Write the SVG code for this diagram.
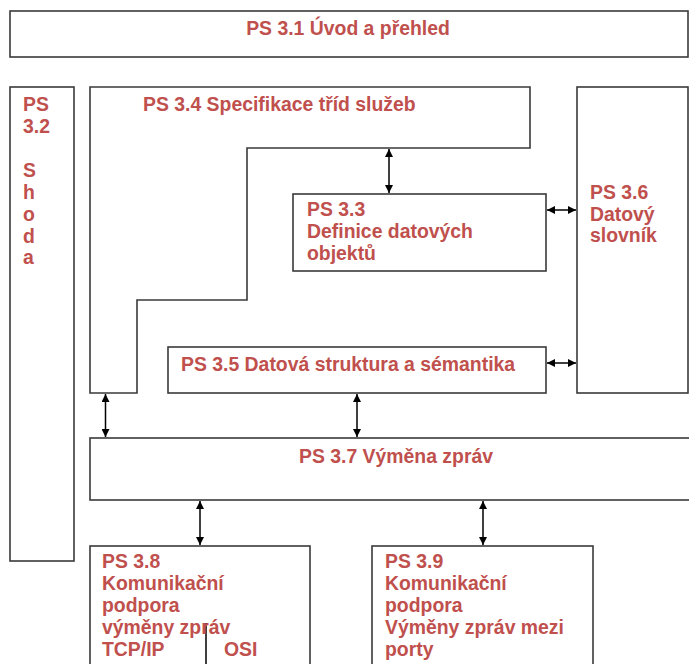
<svg xmlns="http://www.w3.org/2000/svg" width="689" height="664" viewBox="0 0 689 664">
<style>
.box{fill:#ffffff;stroke:#3a3a3a;stroke-width:1.6}
.t{font-family:"Liberation Sans",Arial,sans-serif;font-weight:bold;font-size:19.4px;fill:#c0504d}
.c{stroke:#000;stroke-width:1.5;fill:none;marker-start:url(#ah);marker-end:url(#ah)}
.sep{stroke:#000;stroke-width:1.5}
</style>
<defs>
<marker id="ah" viewBox="0 0 10 10" refX="10" refY="5" markerWidth="8" markerHeight="8" markerUnits="userSpaceOnUse" orient="auto-start-reverse">
<path d="M0,0 L10,5 L0,10 Z" fill="#000"/>
</marker>
</defs>
<rect width="689" height="664" fill="#ffffff"/>
<g id="ps31">
<rect class="box" x="10" y="11" width="678" height="46"/>
<text class="t" x="348" y="35" text-anchor="middle">PS 3.1 Úvod a přehled</text>
</g>
<g id="ps32">
<rect class="box" x="10" y="87" width="64" height="474"/>
<text class="t" x="23" y="111">PS</text>
<text class="t" x="23" y="133">3.2</text>
<text class="t" x="23" y="177">S</text>
<text class="t" x="23" y="199">h</text>
<text class="t" x="23" y="221">o</text>
<text class="t" x="23" y="243">d</text>
<text class="t" x="23" y="264">a</text>
</g>
<g id="ps34">
<path class="box" d="M90,87 H530 V148 H247 V300 H137 V393 H90 Z"/>
<text class="t" x="143" y="111">PS 3.4 Specifikace tříd služeb</text>
</g>
<g id="ps33">
<rect class="box" x="293" y="194" width="253" height="77"/>
<text class="t" x="307" y="216">PS 3.3</text>
<text class="t" x="307" y="238">Definice datových</text>
<text class="t" x="307" y="260">objektů</text>
</g>
<g id="ps36">
<rect class="box" x="577" y="87" width="111" height="306"/>
<text class="t" x="590" y="199">PS 3.6</text>
<text class="t" x="590" y="221">Datový</text>
<text class="t" x="590" y="242">slovník</text>
</g>
<g id="ps35">
<rect class="box" x="168" y="347" width="378" height="46"/>
<text class="t" x="181" y="371">PS 3.5 Datová struktura a sémantika</text>
</g>
<g id="ps37">
<rect class="box" x="90" y="438" width="602" height="62"/>
<text class="t" x="396" y="463" text-anchor="middle">PS 3.7 Výměna zpráv</text>
</g>
<g id="ps38">
<rect class="box" x="90" y="546" width="220" height="124"/>
<line class="sep" x1="206" y1="623" x2="206" y2="670"/>
<text class="t" x="102" y="568">PS 3.8</text>
<text class="t" x="102" y="590">Komunikační</text>
<text class="t" x="102" y="612">podpora</text>
<text class="t" x="102" y="634">výměny zpráv</text>
<text class="t" x="102" y="656">TCP/IP</text>
<text class="t" x="224" y="656">OSI</text>
</g>
<g id="ps39">
<rect class="box" x="372" y="546" width="221" height="124"/>
<text class="t" x="385" y="568">PS 3.9</text>
<text class="t" x="385" y="590">Komunikační</text>
<text class="t" x="385" y="612">podpora</text>
<text class="t" x="385" y="634">Výměny zpráv mezi</text>
<text class="t" x="385" y="656">porty</text>
</g>
<g id="connectors">
<line class="c" x1="389" y1="149" x2="389" y2="193"/>
<line class="c" x1="547" y1="210" x2="576" y2="210"/>
<line class="c" x1="547" y1="363" x2="576" y2="363"/>
<line class="c" x1="105.5" y1="394" x2="105.5" y2="437"/>
<line class="c" x1="357" y1="394" x2="357" y2="437"/>
<line class="c" x1="200" y1="501" x2="200" y2="545"/>
<line class="c" x1="483" y1="501" x2="483" y2="545"/>
</g>
</svg>
